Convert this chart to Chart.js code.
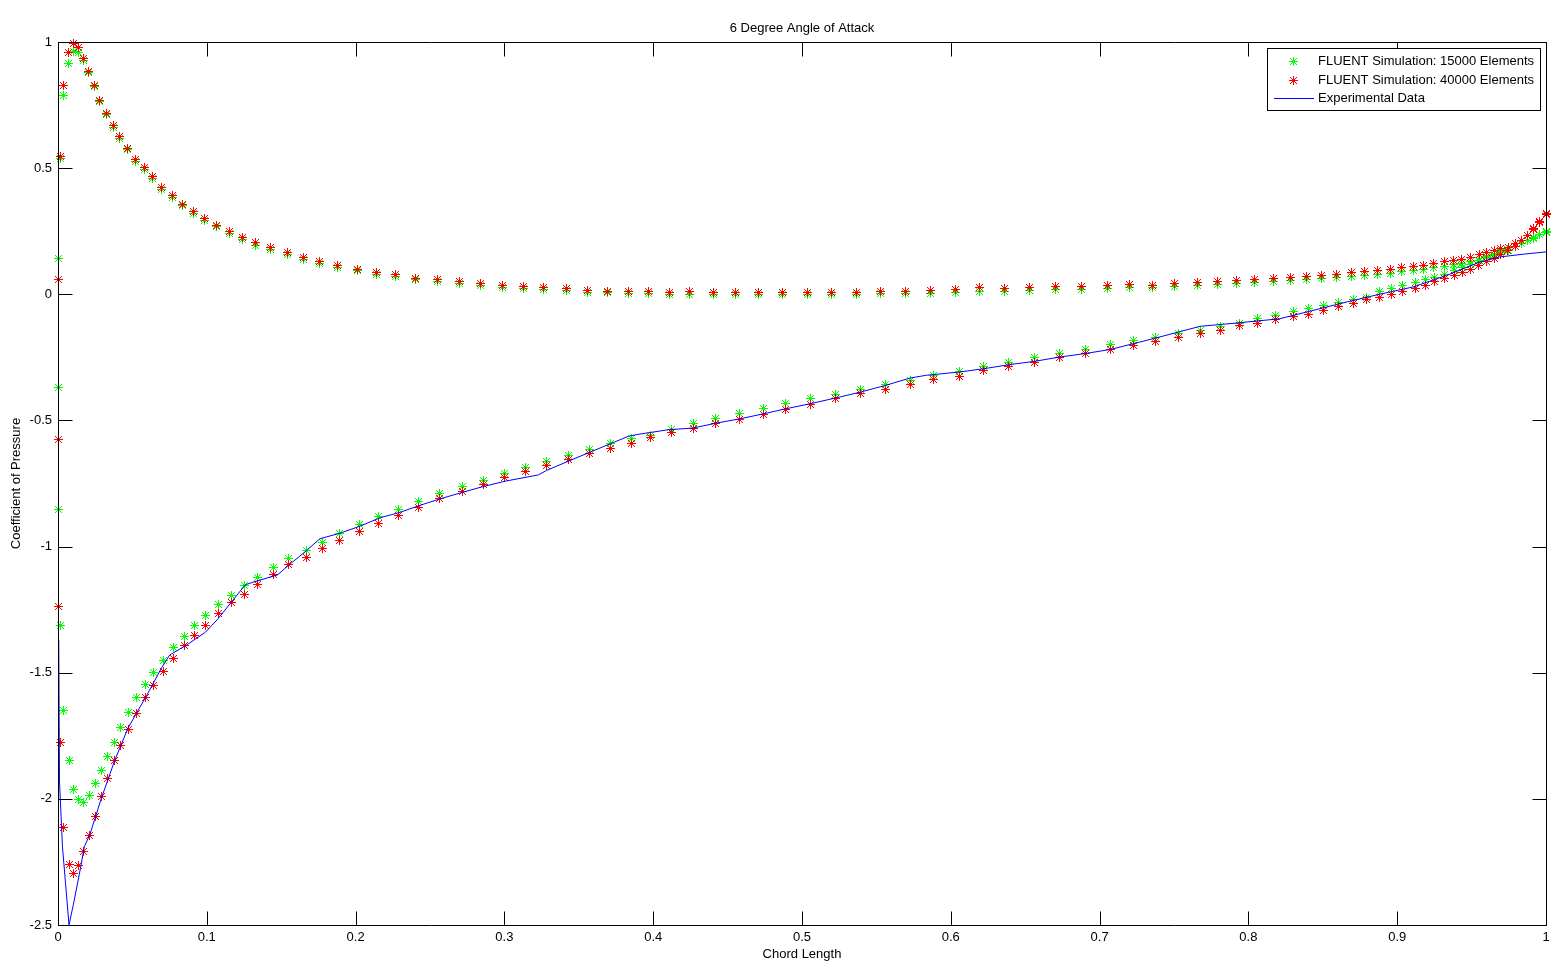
<!DOCTYPE html>
<html>
<head>
<meta charset="utf-8">
<title>6 Degree Angle of Attack</title>
<script src="https://cdn.jsdelivr.net/npm/chart.js@4.4.0/dist/chart.umd.min.js"></script>
<style>
  html, body { margin: 0; padding: 0; background: #fff; }
  #wrap { width: 1564px; height: 967px; }
</style>
</head>
<body>
<div id="wrap"><canvas id="myChart"></canvas></div>
<script>
// names in legend order
const seriesNames = [
  "FLUENT Simulation: 15000 Elements",
  "FLUENT Simulation: 40000 Elements",
  "Experimental Data",
];

// points sitting right on the nose (x ~ 0)
const greenNoseX = [0.0003, 0.0003, 0.0003];
const greenNoseY = [0.142, -0.37, -0.855];
const redNoseX = [0.0002, 0.0002, 0.0002];
const redNoseY = [0.058, -0.577, -1.238];

// pressure side (positive Cp branch), stagnation -> trailing edge
const upperX = [
  0.002, 0.004, 0.0072, 0.0103, 0.0137, 0.017, 0.0204, 0.0244, 0.0282, 0.0327,
  0.0372, 0.0412, 0.0466, 0.0522, 0.058, 0.0636, 0.0697, 0.077, 0.0838, 0.0909,
  0.0983, 0.1066, 0.1151, 0.1239, 0.1326, 0.1431, 0.1541, 0.1649, 0.1756, 0.1877,
  0.2012, 0.2142, 0.2269, 0.2404, 0.2549, 0.2697, 0.2841, 0.2986, 0.3127, 0.3266,
  0.3419, 0.3557, 0.3692, 0.3833, 0.3967, 0.411, 0.4247, 0.4404, 0.4556, 0.4711,
  0.4868, 0.5036, 0.5199, 0.5363, 0.553, 0.5697, 0.5865, 0.603, 0.6196, 0.6364,
  0.6532, 0.6705, 0.688, 0.7052, 0.7204, 0.7357, 0.7502, 0.7657, 0.7791, 0.7921,
  0.8038, 0.8168, 0.8286, 0.8392, 0.8493, 0.8594, 0.8694, 0.8779, 0.8867, 0.8952,
  0.903, 0.9108, 0.9176, 0.9243, 0.9315, 0.9377, 0.9434, 0.9494, 0.955, 0.9602,
  0.9653, 0.9696, 0.9747, 0.9792, 0.9837, 0.9877, 0.9915, 0.9955, 1.0,
];
const greenUpper = [
  0.540, 0.786, 0.915, 0.961, 0.958, 0.926, 0.878, 0.822, 0.764, 0.712,
  0.662, 0.618, 0.572, 0.528, 0.494, 0.459, 0.417, 0.383, 0.350, 0.320,
  0.293, 0.267, 0.242, 0.216, 0.195, 0.176, 0.157, 0.138, 0.121, 0.107,
  0.093, 0.080, 0.072, 0.057, 0.051, 0.042, 0.035, 0.027, 0.022, 0.018,
  0.014, 0.009, 0.006, 0.004, 0.003, 0.001, 0.000, 0.000, -0.002, -0.002,
  -0.002, -0.002, -0.002, -0.001, 0.002, 0.003, 0.005, 0.008, 0.012, 0.013,
  0.016, 0.018, 0.019, 0.022, 0.025, 0.026, 0.030, 0.034, 0.038, 0.042,
  0.046, 0.050, 0.054, 0.058, 0.062, 0.066, 0.070, 0.075, 0.079, 0.084,
  0.089, 0.095, 0.099, 0.106, 0.110, 0.118, 0.124, 0.131, 0.135, 0.148,
  0.158, 0.165, 0.175, 0.188, 0.200, 0.214, 0.222, 0.235, 0.245,
];
const redUpper = [
  0.545, 0.828, 0.959, 0.995, 0.979, 0.933, 0.884, 0.828, 0.770, 0.717,
  0.668, 0.624, 0.578, 0.534, 0.501, 0.466, 0.423, 0.390, 0.356, 0.327,
  0.300, 0.274, 0.250, 0.225, 0.204, 0.185, 0.165, 0.146, 0.128, 0.114,
  0.100, 0.086, 0.079, 0.063, 0.058, 0.049, 0.042, 0.034, 0.029, 0.025,
  0.021, 0.016, 0.013, 0.012, 0.012, 0.009, 0.012, 0.009, 0.009, 0.009,
  0.009, 0.009, 0.009, 0.009, 0.013, 0.013, 0.016, 0.019, 0.025, 0.024,
  0.028, 0.032, 0.031, 0.036, 0.038, 0.036, 0.042, 0.046, 0.052, 0.056,
  0.058, 0.062, 0.066, 0.071, 0.075, 0.079, 0.086, 0.091, 0.095, 0.099,
  0.106, 0.111, 0.115, 0.122, 0.128, 0.135, 0.138, 0.146, 0.158, 0.164,
  0.175, 0.182, 0.186, 0.201, 0.214, 0.234, 0.261, 0.287, 0.320,
];

// suction side (negative Cp branch), leading edge -> trailing edge
const lowerX = [
  0.002, 0.0036, 0.0076, 0.0103, 0.0137, 0.0173, 0.0212, 0.0251, 0.0291, 0.0334,
  0.0377, 0.0417, 0.0473, 0.0529, 0.0587, 0.0641, 0.0708, 0.0775, 0.0847, 0.0914,
  0.099, 0.1077, 0.1163, 0.1252, 0.134, 0.1447, 0.1552, 0.1667, 0.1779, 0.1895,
  0.2025, 0.2157, 0.2287, 0.2421, 0.2567, 0.2717, 0.2858, 0.3004, 0.3145, 0.3284,
  0.3429, 0.3575, 0.371, 0.3855, 0.3979, 0.4124, 0.427, 0.4422, 0.4579, 0.474,
  0.4892, 0.5054, 0.5226, 0.539, 0.5562, 0.5726, 0.5887, 0.6057, 0.6223, 0.6391,
  0.6561, 0.6729, 0.6902, 0.707, 0.7227, 0.7379, 0.7529, 0.7675, 0.7814, 0.7939,
  0.806, 0.8185, 0.8302, 0.8403, 0.8504, 0.8604, 0.8705, 0.8795, 0.888, 0.8963,
  0.9037, 0.912, 0.9187, 0.9254, 0.9321, 0.9382, 0.944, 0.9494, 0.9545, 0.9602,
  0.9653, 0.9696, 0.9743, 0.9792, 0.9837, 0.9877, 0.9915, 0.9955, 1.0,
];
const greenLower = [
  -1.313, -1.651, -1.847, -1.962, -2.004, -2.015, -1.988, -1.940, -1.889, -1.833,
  -1.776, -1.717, -1.657, -1.598, -1.545, -1.499, -1.450, -1.402, -1.357, -1.313,
  -1.274, -1.230, -1.194, -1.155, -1.122, -1.082, -1.046, -1.016, -0.983, -0.950,
  -0.914, -0.881, -0.853, -0.820, -0.791, -0.761, -0.738, -0.709, -0.685, -0.661,
  -0.639, -0.615, -0.593, -0.573, -0.560, -0.536, -0.513, -0.493, -0.473, -0.454,
  -0.434, -0.414, -0.398, -0.378, -0.357, -0.341, -0.321, -0.306, -0.286, -0.271,
  -0.251, -0.235, -0.219, -0.200, -0.185, -0.172, -0.156, -0.143, -0.126, -0.114,
  -0.097, -0.083, -0.070, -0.057, -0.046, -0.034, -0.021, -0.011, 0.010, 0.022,
  0.034, 0.045, 0.058, 0.068, 0.080, 0.093, 0.108, 0.120, 0.133, 0.146,
  0.155, 0.168, 0.178, 0.188, 0.201, 0.214, 0.225, 0.237, 0.247,
];
const redLower = [
  -1.778, -2.114, -2.262, -2.296, -2.266, -2.210, -2.144, -2.070, -1.992, -1.918,
  -1.847, -1.787, -1.724, -1.660, -1.598, -1.549, -1.496, -1.442, -1.394, -1.353,
  -1.311, -1.267, -1.221, -1.188, -1.152, -1.112, -1.073, -1.042, -1.007, -0.976,
  -0.939, -0.907, -0.877, -0.844, -0.811, -0.782, -0.755, -0.727, -0.701, -0.679,
  -0.656, -0.632, -0.612, -0.593, -0.569, -0.547, -0.532, -0.513, -0.495, -0.476,
  -0.456, -0.437, -0.414, -0.394, -0.378, -0.357, -0.339, -0.324, -0.302, -0.286,
  -0.269, -0.251, -0.235, -0.219, -0.202, -0.189, -0.172, -0.156, -0.143, -0.123,
  -0.116, -0.100, -0.090, -0.079, -0.063, -0.050, -0.037, -0.021, -0.013, 0.000,
  0.010, 0.022, 0.036, 0.052, 0.062, 0.075, 0.088, 0.099, 0.115, 0.128,
  0.142, 0.159, 0.172, 0.190, 0.212, 0.232, 0.258, 0.285, 0.318,
];

// experimental suction side curve
const expX = [
  0.0005, 0.001, 0.003, 0.005, 0.0074, 0.0103, 0.0143, 0.0177, 0.0215, 0.029,
  0.038, 0.047, 0.0596, 0.0697, 0.075, 0.0865, 0.099, 0.107, 0.122, 0.126,
  0.1324, 0.1476, 0.1548, 0.167, 0.176, 0.1895, 0.203, 0.2164, 0.23, 0.243,
  0.2567, 0.2724, 0.2858, 0.3004, 0.3228, 0.3284, 0.344, 0.3575, 0.371, 0.3833,
  0.389, 0.41, 0.427, 0.442, 0.458, 0.474, 0.489, 0.5054, 0.5226, 0.539,
  0.5562, 0.5726, 0.5836, 0.6057, 0.6223, 0.6391, 0.6561, 0.6729, 0.6902, 0.707,
  0.736, 0.7675, 0.792, 0.821, 0.8616, 0.888, 0.9106, 0.9333, 0.9556, 0.969,
  0.9848, 1.0,
];
const expY = [
  -1.37, -1.93, -2.19, -2.33, -2.5, -2.42, -2.30, -2.19, -2.14, -2.0,
  -1.85, -1.72, -1.59, -1.48, -1.43, -1.39, -1.34, -1.29, -1.18, -1.151,
  -1.139, -1.112, -1.075, -1.016, -0.969, -0.947, -0.919, -0.886, -0.864, -0.837,
  -0.811, -0.784, -0.762, -0.741, -0.716, -0.698, -0.659, -0.626, -0.593, -0.563,
  -0.556, -0.537, -0.530, -0.511, -0.494, -0.474, -0.454, -0.434, -0.411, -0.388,
  -0.361, -0.332, -0.321, -0.308, -0.295, -0.279, -0.266, -0.249, -0.235, -0.219,
  -0.176, -0.127, -0.114, -0.097, -0.037, 0.0, 0.029, 0.075, 0.128, 0.148,
  0.159, 0.168,
];

const xTicks = [0, 0.1, 0.2, 0.3, 0.4, 0.5, 0.6, 0.7, 0.8, 0.9, 1];
const yTicks = [1, 0.5, 0, -0.5, -1, -1.5, -2, -2.5];

function toPoints(xs, ys) {
  return xs.map((x, i) => ({ x: x, y: ys[i] }));
}

const greenPts = toPoints(greenNoseX, greenNoseY)
  .concat(toPoints(upperX, greenUpper), toPoints(lowerX, greenLower));
const redPts = toPoints(redNoseX, redNoseY)
  .concat(toPoints(upperX, redUpper), toPoints(lowerX, redLower));
const expPts = toPoints(expX, expY);

const colors = ["#00ff00", "#ff0000", "#0000ff"];
const fontFamily = "'Liberation Sans', Arial, Helvetica, sans-serif";

Chart.defaults.color = "#000";
Chart.defaults.font.family = fontFamily;
Chart.defaults.font.size = 13;

// pixel asterisk like the old matlab '*' marker (plus, fat centre, diagonal dots)
function makeMarker(color) {
  const c = document.createElement("canvas");
  c.width = 9;
  c.height = 9;
  const g = c.getContext("2d");
  g.fillStyle = color;
  g.fillRect(0, 4, 9, 1);
  g.fillRect(4, 0, 1, 9);
  g.fillRect(3, 3, 3, 3);
  [[2, 2], [6, 2], [2, 6], [6, 6], [1, 1], [7, 1], [1, 7], [7, 7]].forEach((p) => {
    g.fillRect(p[0], p[1], 1, 1);
  });
  return c;
}
const markers = [makeMarker(colors[0]), makeMarker(colors[1])];

// box with inward ticks on all four sides
const matlabAxes = {
  id: "matlabAxes",
  beforeDatasetsDraw(chart) {
    chart.ctx.imageSmoothingEnabled = false;
  },
  afterDatasetsDraw(chart) {
    const { ctx, chartArea: a, scales } = chart;
    ctx.imageSmoothingEnabled = true;
    const len = 14;
    const L = Math.round(a.left) + 0.5, R = Math.round(a.right) + 0.5;
    const T = Math.round(a.top) + 0.5, B = Math.round(a.bottom) + 0.5;
    ctx.save();
    ctx.strokeStyle = "#000";
    ctx.lineWidth = 1;
    ctx.beginPath();
    ctx.rect(L, T, R - L, B - T);
    xTicks.forEach((v) => {
      const px = Math.round(scales.x.getPixelForValue(v)) + 0.5;
      ctx.moveTo(px, B); ctx.lineTo(px, B - len);
      ctx.moveTo(px, T); ctx.lineTo(px, T + len);
    });
    yTicks.forEach((v) => {
      const py = Math.round(scales.y.getPixelForValue(v)) + 0.5;
      ctx.moveTo(L, py); ctx.lineTo(L + len, py);
      ctx.moveTo(R, py); ctx.lineTo(R - len, py);
    });
    ctx.stroke();
    ctx.restore();
  },
};

// legend box in the top right corner of the axes
const boxLegend = {
  id: "boxLegend",
  afterDraw(chart) {
    const { ctx, chartArea: a } = chart;
    ctx.save();
    ctx.font = "13px " + fontFamily;
    const textW = Math.max(...seriesNames.map((n) => ctx.measureText(n).width));
    const rowH = 18.5;
    const w = Math.round(51 + textW + 6);
    const h = Math.round(rowH * seriesNames.length + 6);
    const right = Math.round(a.right) - 6;
    const left = right - w;
    const top = Math.round(a.top) + 6;
    ctx.fillStyle = "#fff";
    ctx.fillRect(left, top, w, h);
    ctx.strokeStyle = "#000";
    ctx.lineWidth = 1;
    ctx.strokeRect(left + 0.5, top + 0.5, w, h);
    seriesNames.forEach((name, i) => {
      const cy = Math.round(top + 13 + i * rowH);
      if (i < 2) {
        ctx.drawImage(markers[i], left + 22, cy - 4);
      } else {
        ctx.strokeStyle = colors[i];
        ctx.lineWidth = 1;
        ctx.beginPath();
        ctx.moveTo(left + 7, cy + 0.5);
        ctx.lineTo(left + 47, cy + 0.5);
        ctx.stroke();
      }
      ctx.fillStyle = "#000";
      ctx.textAlign = "left";
      ctx.textBaseline = "middle";
      ctx.fillText(name, left + 51, cy);
    });
    ctx.restore();
  },
};

const data = {
  datasets: [
    {
      label: seriesNames[0],
      data: greenPts,
      borderColor: colors[0],
      backgroundColor: colors[0],
      pointStyle: markers[0],
      pointRadius: 4.5,
      borderWidth: 1,
      showLine: false,
      clip: false,
      order: 3,
    },
    {
      label: seriesNames[1],
      data: redPts,
      borderColor: colors[1],
      backgroundColor: colors[1],
      pointStyle: markers[1],
      pointRadius: 4.5,
      borderWidth: 1,
      showLine: false,
      clip: false,
      order: 2,
    },
    {
      label: seriesNames[2],
      data: expPts,
      borderColor: colors[2],
      backgroundColor: colors[2],
      pointRadius: 0,
      borderWidth: 1,
      showLine: true,
      tension: 0,
      fill: false,
      order: 1,
    },
  ],
};

const config = {
  type: "scatter",
  data: data,
  plugins: [matlabAxes, boxLegend],
  options: {
    responsive: true,
    maintainAspectRatio: false,
    animation: false,
    events: [],
    layout: { padding: { top: 0, left: 0, right: 18, bottom: 0 } },
    scales: {
      x: {
        type: "linear",
        min: 0,
        max: 1,
        afterBuildTicks: (scale) => {
          scale.ticks = xTicks.map((v) => ({ value: v }));
        },
        afterFit: (scale) => {
          scale.height = 42;
        },
        ticks: {
          padding: 5,
          maxRotation: 0,
          autoSkip: false,
          callback: (v) => String(Math.round(v * 10) / 10),
        },
        grid: { display: false, drawTicks: false },
        border: { display: false },
        title: {
          display: true,
          text: "Chord Length",
          padding: { top: 0, bottom: 5 },
        },
      },
      y: {
        type: "linear",
        min: -2.5,
        max: 1,
        afterBuildTicks: (scale) => {
          scale.ticks = yTicks.slice().reverse().map((v) => ({ value: v }));
        },
        afterFit: (scale) => {
          scale.width = 58;
        },
        ticks: {
          padding: 6,
          autoSkip: false,
          callback: (v) => String(Math.round(v * 10) / 10),
        },
        grid: { display: false, drawTicks: false },
        border: { display: false },
        title: {
          display: true,
          text: "Coefficient of Pressure",
          padding: { top: 9, bottom: 0 },
        },
      },
    },
    plugins: {
      legend: { display: false },
      tooltip: { enabled: false },
      title: {
        display: true,
        text: "6 Degree Angle of Attack",
        fullSize: false,
        font: { size: 13, weight: "normal" },
        color: "#000",
        padding: { top: 21, bottom: 5.4 },
      },
    },
  },
};

const myChart = new Chart(document.getElementById("myChart"), config);
</script>
</body>
</html>
